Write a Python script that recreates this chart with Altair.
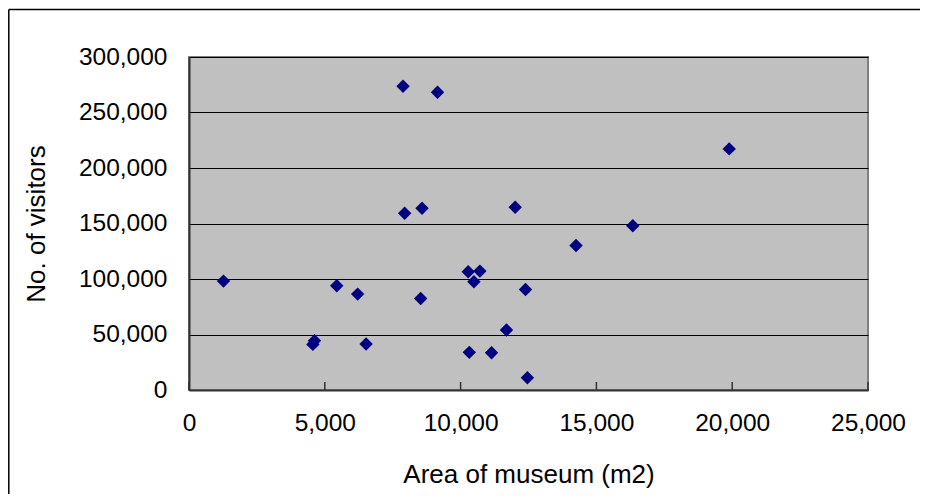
import altair as alt
import pandas as pd

area = [7880, 9150, 7940, 8580, 12010, 1270, 5440, 6210, 8530, 10280, 10710,
        10490, 12390, 11690, 4620, 4560, 6520, 10320, 11140, 12460, 19890, 16340, 14250]
visitors = [273600, 268200, 159300, 163800, 164700, 98100, 93900, 86400, 82500, 106500, 107100,
            97500, 90600, 54000, 44400, 41100, 41400, 33900, 33600, 11100, 217200, 147900, 130200]
x_ticks = [0, 5000, 10000, 15000, 20000, 25000]
y_ticks = [0, 50000, 100000, 150000, 200000, 250000, 300000]

W, H = 679, 333
FONT = "Liberation Sans"

df = pd.DataFrame({"area": area, "visitors": visitors})
ticks_df = pd.DataFrame({"t": x_ticks})

xscale = alt.Scale(domain=[0, 25000], nice=False, zero=False)
yscale = alt.Scale(domain=[0, 300000], nice=False, zero=False)

points = alt.Chart(df).mark_point(
    shape="diamond", filled=True, color="#000080", size=180, opacity=1
).encode(
    x=alt.X("area:Q", scale=xscale, axis=alt.Axis(
        title="Area of museum (m2)", values=x_ticks, format=",d", grid=False,
        ticks=False, tickSize=0, labelPadding=21, labelFontSize=24.5, labelFont=FONT,
        labelColor="black", titleFontSize=26, titleFont=FONT, titleFontWeight="normal",
        titleColor="black", titleBaseline="middle", titleY=84, titleX=W / 2,
        domainColor="#333333", domainWidth=2, labelFlush=False)),
    y=alt.Y("visitors:Q", scale=yscale, axis=alt.Axis(
        title="No. of visitors", values=y_ticks, format=",d", grid=True,
        gridColor="black", gridWidth=1, gridOpacity=1,
        ticks=False, tickSize=0, labelPadding=22, labelFontSize=24.5, labelFont=FONT,
        labelColor="black", titleFontSize=26, titleFont=FONT, titleFontWeight="normal",
        titleColor="black", titleBaseline="middle", titleAlign="center", titleAngle=-90,
        titleX=-153, titleY=H / 2, domainColor="#333333", domainWidth=2, labelFlush=False)),
)

xtick_marks = alt.Chart(ticks_df).mark_rule(color="#333333", strokeWidth=1.5).encode(
    x=alt.X("t:Q", scale=xscale),
    y=alt.value(H - 8),
    y2=alt.value(H),
)

frame_top = alt.Chart(ticks_df.head(1)).mark_rule(color="black", strokeWidth=1.5).encode(
    x=alt.value(-180.2), x2=alt.value(760), y=alt.value(-47.5)
)
frame_left = alt.Chart(ticks_df.head(1)).mark_rule(color="black", strokeWidth=1.5).encode(
    x=alt.value(-180.2), y=alt.value(-47.5), y2=alt.value(460)
)

chart = alt.layer(frame_top, frame_left, points, xtick_marks).properties(
    width=W, height=H,
    autosize=alt.AutoSizeParams(type="none"),
    padding={"left": 181, "top": 49, "right": 52, "bottom": 104},
    background="white",
).configure_view(
    fill="#C0C0C0", stroke="#808080", strokeWidth=2
)

chart.save("out.html", embed_options={"renderer": "svg", "actions": False})
